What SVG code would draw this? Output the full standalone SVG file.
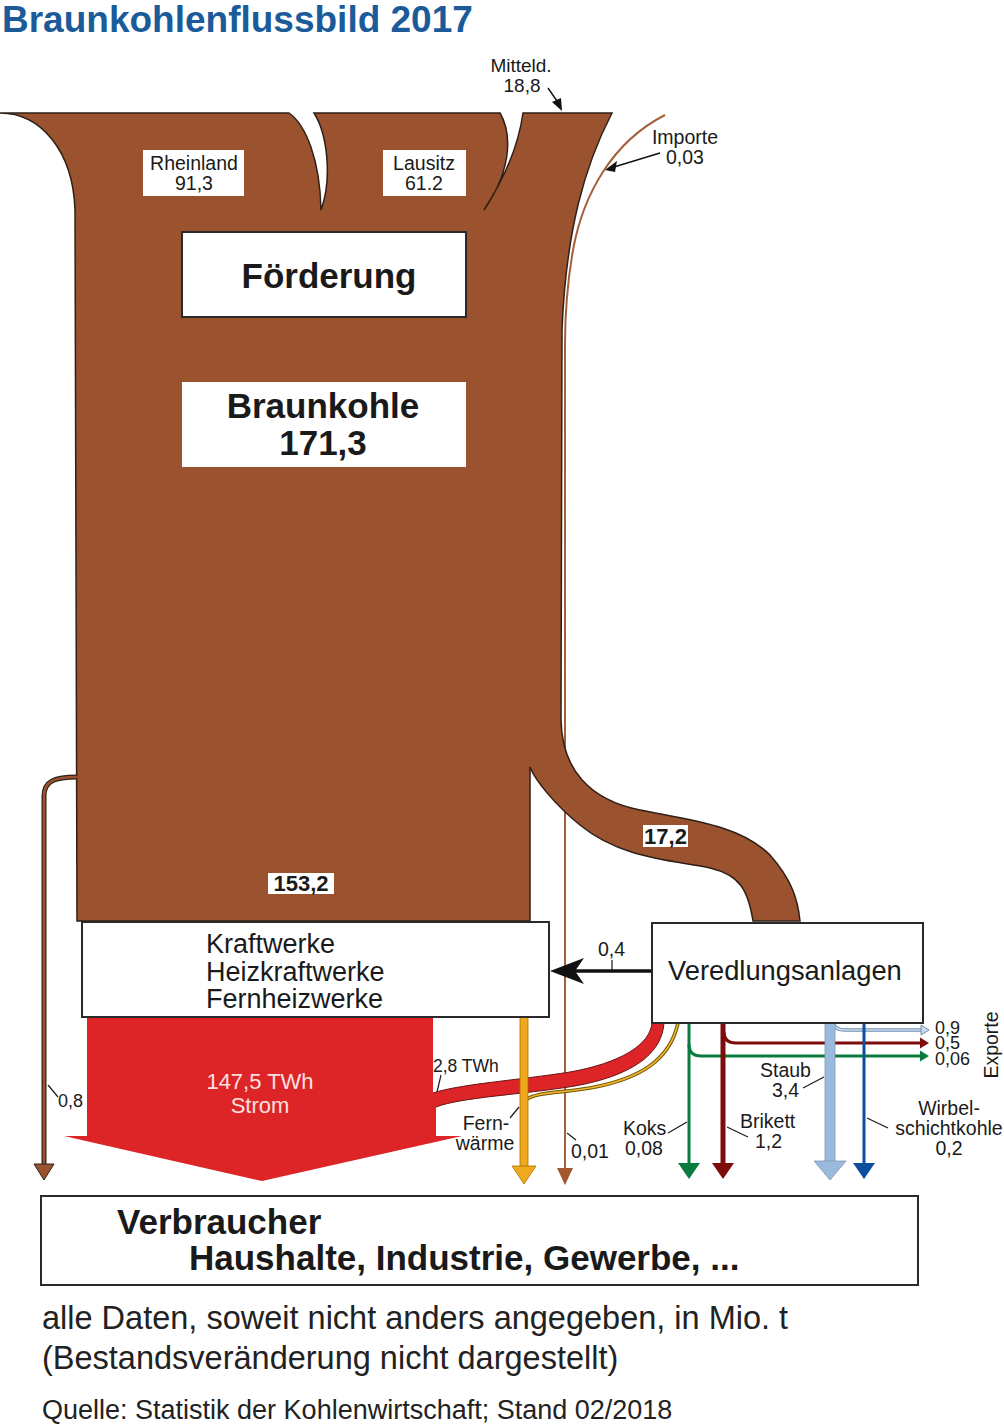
<svg xmlns="http://www.w3.org/2000/svg" width="1004" height="1428" viewBox="0 0 1004 1428">
<style>
text{font-family:"Liberation Sans",Arial,sans-serif;fill:#1a1a1a}
.lbl{font-size:19.5px}
.b{font-weight:bold}
.box{fill:#fff;stroke:#2a2a2a;stroke-width:2}
.wbox{fill:#fff;stroke:none}
.brown{fill:#9b522e;stroke:#2e2018;stroke-width:1.5}
.lead{stroke:#1a1a1a;stroke-width:1.2;fill:none}
</style>
<rect width="1004" height="1428" fill="#fff"/>
<text x="2" y="32" style="font-size:37px;font-weight:bold;fill:#1b5b99">Braunkohlenflussbild 2017</text>

<g id="connectors">
  <!-- Importe line -> 0,01 -->
  <path d="M665 115 C612 142 583 195 573 250 C566 290 565 320 565 345 L565 1170" fill="none" stroke="#a4603a" stroke-width="2"/>
  <polygon points="557,1168 573,1168 565,1185" fill="#a4562f"/>
  <!-- main brown flow -->
  <path class="brown" d="M0 113 L289 113 C306 125 320 160 321 210 C332 180 328 135 314 113 L500 113 C510 130 515 165 484 210 C500 185 518 150 523 113 L612 113 C585 165 566 230 562 330 L561 720 C562 770 590 800 640 810 C690 820 740 825 770 855 C792 880 798 900 800 921 L753 921 C748 890 740 875 710 868 C670 860 620 858 580 825 C555 805 535 780 530 767 L530 921 L77 921 L75 210 C73 150 40 113 0 113 Z"/>
  <!-- 0,8 branch -->
  <path d="M77 777 C55 777 44 781 44 796 L44 1166" fill="none" stroke="#2e2018" stroke-width="5"/>
  <path d="M77 777 C55 777 44 781 44 796 L44 1166" fill="none" stroke="#9b522e" stroke-width="2.6"/>
  <polygon points="34,1164 54,1164 44,1180" fill="#9b522e" stroke="#2e2018" stroke-width="1"/>
  <path class="lead" d="M48 1085 L58 1097"/>
  <!-- Strom red -->
  <path d="M87 1017 L433 1017 L433 1093 C460 1084 520 1080 570 1072 C620 1063 650 1045 652 1023 L664 1023 C662 1055 630 1076 575 1086 C520 1095 462 1097 436 1107 L436 1136 L462 1136 L262 1181 L64 1136 L87 1136 Z" fill="#dd2427"/>
  <path d="M433 1093 C460 1084 520 1080 570 1072 C620 1063 650 1045 652 1023 M664 1023 C662 1055 630 1076 575 1086 C520 1095 462 1097 436 1107" fill="none" stroke="#6a1515" stroke-width="1"/>
  <!-- Fernwaerme yellow thin -->
  <path d="M678 1023 C670 1060 640 1079 590 1088 C560 1093 535 1092 526 1100" fill="none" stroke="#6e5a00" stroke-width="3.6"/>
  <path d="M678 1023 C670 1060 640 1079 590 1088 C560 1093 535 1092 526 1100" fill="none" stroke="#f0b030" stroke-width="1.6"/>
  <!-- Fernwaerme orange vertical -->
  <rect x="520" y="1017" width="8" height="151" fill="#f0a81c" stroke="#a87300" stroke-width="0.8"/>
  <polygon points="512,1166 536,1166 524,1184" fill="#f0a81c" stroke="#a87300" stroke-width="0.8"/>
  <!-- 0,4 arrow -->
  <line x1="652" y1="971" x2="572" y2="971" stroke="#111" stroke-width="3.5"/>
  <path d="M550 971 L584 958 L575 971 L584 984 Z" fill="#111"/>
  <line x1="612" y1="960" x2="612" y2="970" stroke="#111" stroke-width="1.2"/>
  <!-- exports -->
  <path d="M689 1044 Q689 1056 701 1056 L920 1056" fill="none" stroke="#0b7a3e" stroke-width="3"/>
  <polygon points="920,1050.5 929,1056 920,1061.5" fill="#0b7a3e"/>
  <path d="M724 1032 Q724 1043 736 1043 L920 1043" fill="none" stroke="#7d0c0c" stroke-width="3"/>
  <polygon points="920,1037.5 929,1043 920,1048.5" fill="#7d0c0c"/>
  <path d="M834 1024 Q835 1030 845 1030 L922 1030" fill="none" stroke="#6f8fb0" stroke-width="3.6"/>
  <path d="M834 1024 Q835 1030 845 1030 L922 1030" fill="none" stroke="#c8daee" stroke-width="1.6"/>
  <polygon points="921,1025 929,1030 921,1035" fill="#c8daee" stroke="#6f8fb0" stroke-width="1"/>
  <!-- verticals -->
  <line x1="689" y1="1023" x2="689" y2="1164" stroke="#0b7a3e" stroke-width="3"/>
  <polygon points="678,1163 700,1163 689,1179" fill="#0b7a3e"/>
  <line x1="723" y1="1023" x2="723" y2="1164" stroke="#7d0c0c" stroke-width="5"/>
  <polygon points="712,1163 734,1163 723,1179" fill="#7d0c0c"/>
  <rect x="825" y="1023" width="10" height="140" fill="#9bb9dc" stroke="#7a98ba" stroke-width="0.8"/>
  <polygon points="814,1161 846,1161 830,1180" fill="#9bb9dc" stroke="#7a98ba" stroke-width="0.8"/>
  <line x1="864" y1="1023" x2="864" y2="1164" stroke="#0d4f9e" stroke-width="3"/>
  <polygon points="853,1163 875,1163 864,1179" fill="#0d4f9e"/>
  <!-- leaders -->
  <path class="lead" d="M441 1075 L437 1092"/>
  <path class="lead" d="M510 1118 L519 1107"/>
  <path class="lead" d="M567 1133 L576 1140"/>
  <path class="lead" d="M668 1133 L687 1122"/>
  <path class="lead" d="M727 1127 L748 1137"/>
  <path class="lead" d="M803 1088 L824 1077"/>
  <path class="lead" d="M867 1118 L888 1128"/>
  <!-- Importe / Mitteld leaders -->
  <line x1="660" y1="153" x2="614" y2="167" stroke="#111" stroke-width="1.4"/>
  <path d="M605 170 L617 161 L615 172 Z" fill="#111"/>
  <line x1="548" y1="88" x2="557" y2="101" stroke="#111" stroke-width="1.4"/>
  <path d="M562 111 L552 102 L561 98 Z" fill="#111"/>
</g>

<g id="rheinland">
  <rect class="wbox" x="143" y="150" width="101" height="46"/>
  <text class="lbl" x="194" y="170" text-anchor="middle">Rheinland</text>
  <text class="lbl" x="194" y="190" text-anchor="middle">91,3</text>
</g>
<g id="lausitz">
  <rect class="wbox" x="383" y="150" width="83" height="46"/>
  <text class="lbl" x="424" y="170" text-anchor="middle">Lausitz</text>
  <text class="lbl" x="424" y="190" text-anchor="middle">61.2</text>
</g>
<g id="mitteld">
  <text x="521" y="72" text-anchor="middle" style="font-size:19px">Mitteld.</text>
  <text x="522" y="92" text-anchor="middle" style="font-size:19px">18,8</text>
</g>
<g id="importe">
  <text class="lbl" x="685" y="144" text-anchor="middle">Importe</text>
  <text class="lbl" x="685" y="164" text-anchor="middle">0,03</text>
</g>
<g id="foerderung">
  <rect class="box" x="182" y="232" width="284" height="85"/>
  <text class="b" x="329" y="288" text-anchor="middle" style="font-size:35px">Förderung</text>
</g>
<g id="braunkohle">
  <rect class="wbox" x="182" y="382" width="284" height="85"/>
  <text class="b" x="323" y="418" text-anchor="middle" style="font-size:35px">Braunkohle</text>
  <text class="b" x="323" y="455" text-anchor="middle" style="font-size:35px">171,3</text>
</g>
<g id="val1532">
  <rect class="wbox" x="268" y="873" width="66" height="21"/>
  <text class="b" x="301" y="891" text-anchor="middle" style="font-size:22px">153,2</text>
</g>
<g id="val172">
  <rect class="wbox" x="643" y="825" width="45" height="22"/>
  <text class="b" x="665.5" y="844" text-anchor="middle" style="font-size:22px">17,2</text>
</g>
<g id="kraftwerke">
  <rect class="box" x="82" y="922" width="467" height="95"/>
  <text x="206" y="953" style="font-size:27px">Kraftwerke</text>
  <text x="206" y="981" style="font-size:27px">Heizkraftwerke</text>
  <text x="206" y="1008" style="font-size:27px">Fernheizwerke</text>
</g>
<g id="strom">
  <text x="260" y="1089" text-anchor="middle" style="font-size:22px;fill:#fbe0e0">147,5 TWh</text>
  <text x="260" y="1113" text-anchor="middle" style="font-size:22px;fill:#fbe0e0">Strom</text>
</g>
<g id="veredlung">
  <rect class="box" x="652" y="923" width="271" height="100"/>
  <text x="668" y="980" style="font-size:27.3px">Veredlungsanlagen</text>
</g>
<g id="labels">
  <text class="lbl" x="598" y="956">0,4</text>
  <text x="58" y="1107" style="font-size:18px">0,8</text>
  <text x="433" y="1072" style="font-size:17.5px">2,8 TWh</text>
  <text class="lbl" x="486" y="1130" text-anchor="middle">Fern-</text>
  <text class="lbl" x="485" y="1150" text-anchor="middle">wärme</text>
  <text class="lbl" x="571" y="1158">0,01</text>
  <text class="lbl" x="623" y="1135">Koks</text>
  <text class="lbl" x="625" y="1155">0,08</text>
  <text class="lbl" x="740" y="1128">Brikett</text>
  <text class="lbl" x="755" y="1148">1,2</text>
  <text class="lbl" x="760" y="1077">Staub</text>
  <text class="lbl" x="772" y="1097">3,4</text>
  <text class="lbl" x="949" y="1115" text-anchor="middle">Wirbel-</text>
  <text class="lbl" x="949" y="1135" text-anchor="middle">schichtkohle</text>
  <text class="lbl" x="949" y="1155" text-anchor="middle">0,2</text>
  <text x="935" y="1034" style="font-size:18px">0,9</text>
  <text x="935" y="1049" style="font-size:18px">0,5</text>
  <text x="935" y="1065" style="font-size:18px">0,06</text>
  <text class="lbl" transform="translate(998 1045) rotate(-90)" text-anchor="middle">Exporte</text>
</g>
<g id="verbraucher">
  <rect class="box" x="41" y="1196" width="877" height="89"/>
  <text class="b" x="117" y="1234" style="font-size:35px">Verbraucher</text>
  <text class="b" x="189" y="1270" style="font-size:35px">Haushalte, Industrie, Gewerbe, ...</text>
</g>
<g id="notes">
  <text x="42" y="1329" style="font-size:32.5px;fill:#222">alle Daten, soweit nicht anders angegeben, in Mio. t</text>
  <text x="42" y="1369" style="font-size:32.5px;fill:#222">(Bestandsveränderung nicht dargestellt)</text>
  <text x="42" y="1419" style="font-size:27px;fill:#222">Quelle: Statistik der Kohlenwirtschaft; Stand 02/2018</text>
</g>
</svg>
